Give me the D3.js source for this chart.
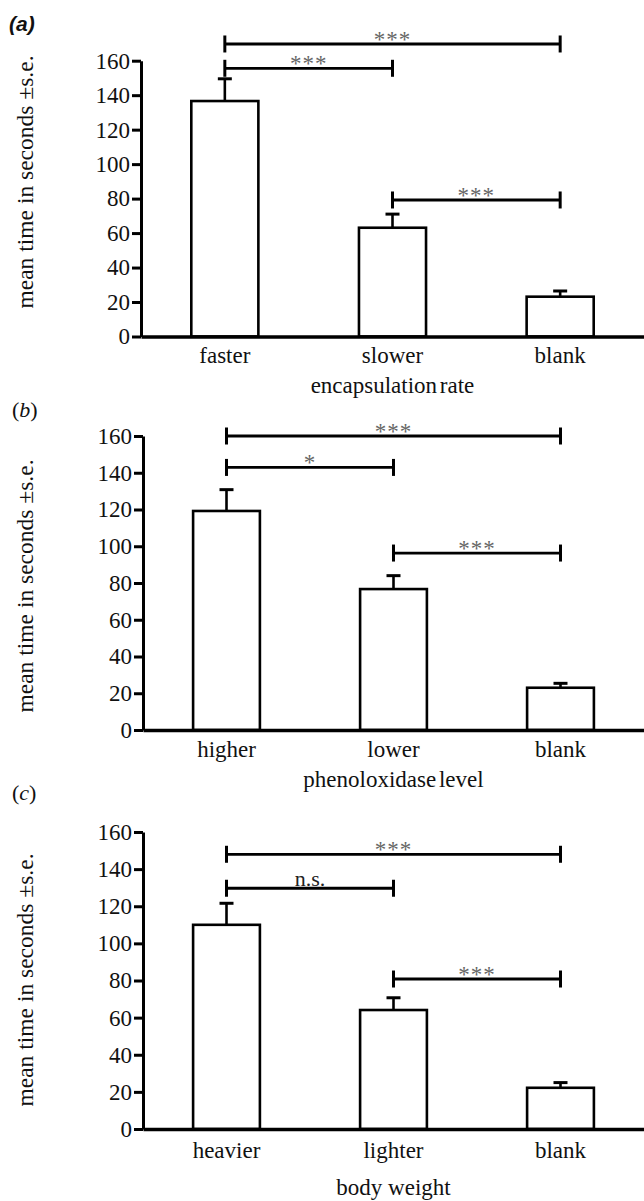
<!DOCTYPE html>
<html>
<head>
<meta charset="utf-8">
<script src="https://cdn.jsdelivr.net/npm/d3@7"></script>
<style>
  body { margin: 0; background: #fff; }
  svg { display: block; }
  svg text { font-family: "Liberation Serif", "Times New Roman", serif !important; fill: #111; }
  svg text.sans { font-family: "Liberation Sans", Arial, sans-serif !important; }
</style>
</head>
<body>
<svg id="chart" width="644" height="1201"></svg>
<script>
// values
var yTicks = [0, 20, 40, 60, 80, 100, 120, 140, 160];

var catsA = ["faster", "slower", "blank"];
var meansA = [136.6, 63.1, 23.1];
var seA = [12.9, 7.9, 3.3];
var sigA = [
  {from: 0, to: 2, level: 169.7, label: "***"},
  {from: 0, to: 1, level: 155.6, label: "***"},
  {from: 1, to: 2, level: 79.2, label: "***"}
];

var catsB = ["higher", "lower", "blank"];
var meansB = [119.2, 76.7, 23];
var seB = [11.6, 7.3, 2.4];
var sigB = [
  {from: 0, to: 2, level: 160, label: "***"},
  {from: 0, to: 1, level: 142.9, label: "*"},
  {from: 1, to: 2, level: 96.3, label: "***"}
];

var catsC = ["heavier", "lighter", "blank"];
var meansC = [110, 64.1, 22.2];
var seC = [11.6, 6.6, 2.8];
var sigC = [
  {from: 0, to: 2, level: 148, label: "***"},
  {from: 0, to: 1, level: 129.7, label: "n.s."},
  {from: 1, to: 2, level: 80.8, label: "***"}
];

var titles = ["encapsulation rate", "phenoloxidase level", "body weight"];
var yTitle = "mean time in seconds \u00b1s.e.";

// layout of each panel
var panels = [
  {tag: "a", cats: catsA, means: meansA, se: seA, sig: sigA, title: titles[0],
   left: 141, bottom: 336.5, top: 60.7, tagY: 31, titleY: 393, yLabelC: 182, catPad: 10},
  {tag: "b", cats: catsB, means: meansB, se: seB, sig: sigB, title: titles[1],
   left: 143, bottom: 730, top: 436, tagY: 417, titleY: 787, yLabelC: 586, catPad: 10.5},
  {tag: "c", cats: catsC, means: meansC, se: seC, sig: sigC, title: titles[2],
   left: 143, bottom: 1129, top: 832, tagY: 800, titleY: 1195, yLabelC: 980, catPad: 12.5}
];

var svg = d3.select("#chart");
var W = 644;

panels.forEach(function(p){
  var g = svg.append("g");

  var y = d3.scaleLinear().domain([0, 160]).range([p.bottom, p.top]);
  var x = d3.scaleBand().domain(p.cats).range([p.left, W])
    .paddingInner(0.6).paddingOuter(0.3);
  var cx = function(i){ return x(p.cats[i]) + x.bandwidth() / 2; };

  // bars
  g.selectAll("rect.bar").data(p.means).enter().append("rect")
    .attr("class", "bar")
    .attr("x", function(d, i){ return x(p.cats[i]); })
    .attr("width", x.bandwidth())
    .attr("y", function(d){ return y(d); })
    .attr("height", function(d){ return y(0) - y(d); })
    .attr("fill", "#fff")
    .attr("stroke", "#000")
    .attr("stroke-width", 2.6);

  // error bars (upper only)
  var eb = g.selectAll("g.err").data(p.means).enter().append("g").attr("class", "err");
  eb.append("line")
    .attr("x1", function(d, i){ return cx(i); })
    .attr("x2", function(d, i){ return cx(i); })
    .attr("y1", function(d){ return y(d); })
    .attr("y2", function(d, i){ return y(d + p.se[i]); })
    .attr("stroke", "#000").attr("stroke-width", 2.6);
  eb.append("line")
    .attr("x1", function(d, i){ return cx(i) - 7; })
    .attr("x2", function(d, i){ return cx(i) + 7; })
    .attr("y1", function(d, i){ return y(d + p.se[i]); })
    .attr("y2", function(d, i){ return y(d + p.se[i]); })
    .attr("stroke", "#000").attr("stroke-width", 3);

  // y axis
  var ya = g.append("g")
    .attr("transform", "translate(" + p.left + ",0)")
    .call(d3.axisLeft(y).tickValues(yTicks).tickSize(9).tickSizeOuter(0).tickPadding(2));
  ya.attr("font-family", null).attr("font-size", null);
  ya.select(".domain").attr("stroke", "#000").attr("stroke-width", 3);
  ya.selectAll(".tick line").attr("stroke", "#000").attr("stroke-width", 3);
  ya.selectAll(".tick text")
    .style("font-size", "23px")
    .attr("fill", "#111");

  // x axis
  var xa = g.append("g")
    .attr("transform", "translate(0," + p.bottom + ")")
    .call(d3.axisBottom(x).tickSize(0).tickSizeOuter(0).tickPadding(p.catPad));
  xa.attr("font-family", null).attr("font-size", null);
  xa.select(".domain").attr("stroke", "#000").attr("stroke-width", 3.4);
  xa.selectAll(".tick text")
    .style("font-size", "23px")
    .attr("fill", "#111");

  // axis titles
  g.append("text")
    .attr("x", (p.left + W) / 2)
    .attr("y", p.titleY)
    .attr("text-anchor", "middle")
    .style("font-size", "23px")
    .style("word-spacing", p.tag === "c" ? "0px" : "-3px")
    .text(p.title);

  g.append("text")
    .attr("transform", "translate(33," + p.yLabelC + ") rotate(-90)")
    .attr("text-anchor", "middle")
    .style("font-size", "23.5px")
    .text(yTitle);

  // panel tag
  if (p.tag === "a") {
    g.append("text")
      .attr("class", "sans")
      .attr("x", 9).attr("y", p.tagY)
      .style("font-weight", "bold").style("font-style", "italic")
      .style("font-size", "21px")
      .text("(a)");
  } else {
    var t = g.append("text").attr("x", 12).attr("y", p.tagY).style("font-size", "22px");
    t.append("tspan").text("(");
    t.append("tspan").style("font-style", "italic").text(p.tag);
    t.append("tspan").text(")");
  }

  // significance brackets
  var br = g.selectAll("g.sig").data(p.sig).enter().append("g").attr("class", "sig");
  br.append("line")
    .attr("x1", function(d){ return cx(d.from); })
    .attr("x2", function(d){ return cx(d.to); })
    .attr("y1", function(d){ return y(d.level); })
    .attr("y2", function(d){ return y(d.level); })
    .attr("stroke", "#000").attr("stroke-width", 2.8);
  ["from", "to"].forEach(function(k){
    br.append("line")
      .attr("x1", function(d){ return cx(d[k]); })
      .attr("x2", function(d){ return cx(d[k]); })
      .attr("y1", function(d){ return y(d.level) - 8.5; })
      .attr("y2", function(d){ return y(d.level) + 8.5; })
      .attr("stroke", "#000").attr("stroke-width", 3);
  });
  br.append("text")
    .attr("x", function(d){ return (cx(d.from) + cx(d.to)) / 2; })
    .attr("y", function(d){ return y(d.level) + (d.label === "n.s." ? -2 : 3); })
    .attr("text-anchor", "middle")
    .style("font-size", function(d){ return d.label === "n.s." ? "22px" : "23px"; })
    .style("letter-spacing", function(d){ return d.label === "n.s." ? "0px" : "1px"; })
    .style("fill", function(d){ return d.label === "n.s." ? "#222" : "#666"; })
    .text(function(d){ return d.label; });
});
</script>
</body>
</html>
